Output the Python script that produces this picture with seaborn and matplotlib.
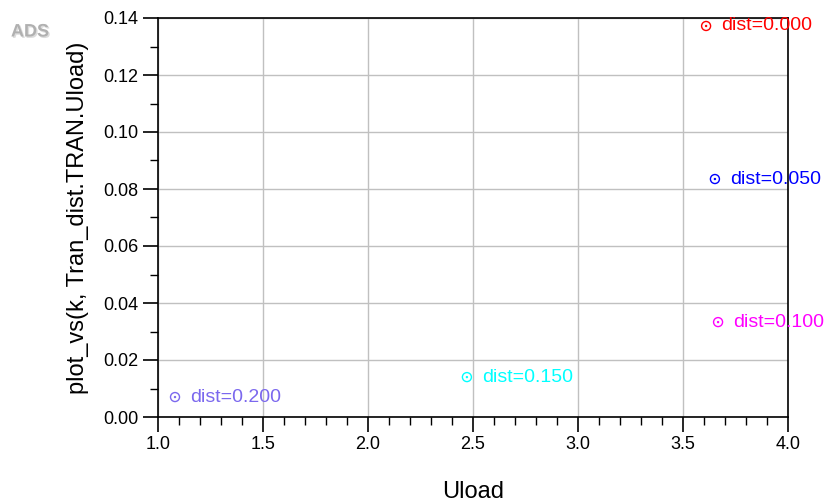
import matplotlib
matplotlib.use("Agg")
import matplotlib.pyplot as plt
import matplotlib.patheffects as pe
from matplotlib.ticker import MultipleLocator, FormatStrFormatter
import seaborn as sns
import pandas as pd

dist_labels = ["dist=0.000", "dist=0.050", "dist=0.100", "dist=0.150", "dist=0.200"]
uload = [3.61, 3.652, 3.667, 2.471, 1.081]
kvals = [0.1372, 0.0835, 0.0333, 0.0140, 0.0070]
colors = ["#ff0000", "#0000ff", "#ff00ff", "#00ffff", "#7b68ee"]

df = pd.DataFrame({"Uload": uload, "k": kvals, "dist": dist_labels})

sns.set_style("white")
plt.rcParams["font.family"] = ["Liberation Sans", "DejaVu Sans"]
plt.rcParams["text.color"] = "black"
plt.rcParams["axes.labelcolor"] = "black"

fig = plt.figure(figsize=(8.25, 5.03), dpi=100)
ax = fig.add_axes([158/825, 1 - 417/503, 630/825, 399/503])

pal = dict(zip(dist_labels, colors))
sns.scatterplot(data=df, x="Uload", y="k", hue="dist", palette=pal, ax=ax,
                marker="o", s=42, linewidth=1.0, legend=False)
for coll in ax.collections:
    fc = coll.get_facecolors()
    coll.set_edgecolors(fc)
    coll.set_facecolors("none")
sns.scatterplot(data=df, x="Uload", y="k", hue="dist", palette=pal, ax=ax,
                marker="o", s=3, linewidth=0, legend=False)

for xv, yv, lab, c in zip(uload, kvals, dist_labels, colors):
    ax.annotate(lab, (xv, yv), xytext=(11, 0), textcoords="offset points",
                color=c, fontsize=14, va="center", ha="left", clip_on=False)

ax.set_xlim(1.0, 4.0)
ax.set_ylim(0.0, 0.14)
ax.xaxis.set_major_locator(MultipleLocator(0.5))
ax.xaxis.set_minor_locator(MultipleLocator(0.1))
ax.yaxis.set_major_locator(MultipleLocator(0.02))
ax.yaxis.set_minor_locator(MultipleLocator(0.01))
ax.xaxis.set_major_formatter(FormatStrFormatter("%.1f"))
ax.yaxis.set_major_formatter(FormatStrFormatter("%.2f"))
ax.grid(True, which="major", color="#c0c0c0", linewidth=1.0)
ax.set_axisbelow(True)
ax.tick_params(which="major", direction="out", length=11, width=1.2, labelsize=13,
               pad=3, bottom=True, left=True, colors="black")
ax.tick_params(which="minor", direction="out", length=6, width=1.0,
               bottom=True, left=True, colors="black")
for s in ax.spines.values():
    s.set_color("black")
    s.set_linewidth(1.2)

ax.set_xlabel("Uload", fontsize=17, labelpad=20, color="black")
ax.set_ylabel("plot_vs(k, Tran_dist.TRAN.Uload)", fontsize=17, labelpad=10, color="black")

fig.text(30/825, 1 - 32/503, "ADS", fontsize=13, fontweight="bold", color="#b0b0b0",
         ha="center", va="center",
         path_effects=[pe.withSimplePatchShadow(offset=(1, -1), shadow_rgbFace="#dcdcdc", alpha=1)])

fig.savefig("out.png", dpi=100)
